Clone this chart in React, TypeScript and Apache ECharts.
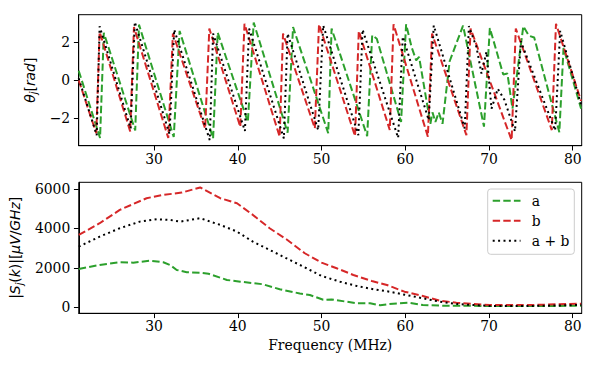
import React, { useEffect, useRef } from "react";
import * as echarts from "echarts";

// Phase (rad) vs frequency (MHz)
const thetaA: [number, number][] = [
  [21, 0.5], [23.55, -3.05], [24.0, 2.5], [27.75, -2.65], [28.2, 2.93], [32.35, -3.0], [33.05, 2.6],
  [37.05, -3.07], [37.6, 2.51], [41.2, -2.2], [41.9, 3.04], [45.95, -2.77], [46.6, 2.8], [50.8, -2.8],
  [51.2, 2.72], [55.45, -2.95], [56.05, 2.37], [56.6, 2.19], [59.5, -2.2], [60.1, 2.95], [60.75, 1.75],
  [61.3, 1.05], [61.65, 1.23], [63.0, -2.3], [63.25, -1.7], [63.6, -2.2], [64.0, -1.7], [64.45, -2.3],
  [65.3, 1.0], [66.9, 2.88], [69.4, -2.45], [70.1, 2.75], [71.7, 0.3], [72.2, 0.35], [72.8, -1.5],
  [74.1, 2.85], [74.75, 2.35], [75.4, 2.25], [78.4, -2.75], [78.9, 1.7], [81, -1.5],
];
const thetaB: [number, number][] = [
  [21, 0.0], [23.1, -2.8], [23.5, 2.55], [27.15, -2.7], [27.6, 2.8], [31.7, -3.05], [32.25, 2.46],
  [36.1, -2.55], [36.6, 2.72], [40.3, -2.46], [40.8, 2.98], [45.0, -2.98], [45.4, 2.46], [49.2, -2.54],
  [49.7, 2.95], [54.0, -2.95], [54.45, 2.6], [58.15, -2.63], [58.6, 2.95], [62.7, -2.98], [63.2, 2.46],
  [67.3, -2.9], [67.8, 2.72], [72.7, -3.16], [73.2, 2.72], [77.5, -2.63], [78.0, 2.98], [81, -1.1],
];
const thetaAB: [number, number][] = [
  [21, 0.1], [23.15, -2.9], [23.5, 2.84], [27.2, -2.55], [27.7, 3.07], [31.85, -2.85], [32.4, 2.67],
  [36.65, -3.16], [37.05, 2.46], [40.85, -2.68], [41.35, 2.72], [45.5, -3.07], [45.95, 2.46],
  [49.6, -2.63], [50.2, 2.89], [54.4, -2.9], [54.9, 2.67], [59.15, -3.04], [59.7, 2.3], [62.8, -2.1],
  [63.4, 2.89], [67.1, -2.54], [67.6, 2.85], [68.5, 1.75], [69.1, 0.35], [69.7, 1.5], [70.3, -1.5],
  [71.05, -0.45], [71.85, -1.05], [73.1, -2.7], [73.8, 2.05], [77.9, -2.65], [78.5, 2.6], [81, -1.3],
];

// Amplitude |S_j(k)| (µV/GHz) vs frequency (MHz)
const ampA: [number, number][] = [
  [21, 1944], [23.5, 2147], [25.9, 2284], [27.5, 2264], [29.5, 2365], [31.1, 2284], [31.9, 2147],
  [32.7, 1893], [33.9, 1777], [35.5, 1756], [36.5, 1700], [38.7, 1386], [40.3, 1300], [43.0, 1168],
  [45.0, 914], [47.4, 700], [48.6, 624], [50.2, 380], [51.2, 400], [54.2, 203], [55.8, 203],
  [57.0, 100], [58.1, 170], [60.3, 234], [62.1, 117], [64.1, 85], [70, 66], [75, 60], [81, 80],
];
const ampB: [number, number][] = [
  [21, 3670], [23.5, 4264], [25.9, 4939], [29.1, 5533], [31.1, 5700], [33.3, 5817], [35.5, 6080],
  [37.9, 5533], [39.9, 5279], [41.8, 4685], [43.8, 4010], [45.8, 3450], [48.0, 2741], [50.0, 2264],
  [51.8, 1980], [53.8, 1640], [56.0, 1335], [57.8, 1132], [59.9, 792], [62.1, 574], [64.1, 335],
  [66.1, 234], [68.0, 170], [70.1, 117], [75, 117], [81, 180],
];
const ampAB: [number, number][] = [
  [21, 3076], [23.5, 3584], [25.9, 4010], [28.3, 4345], [30.3, 4467], [31.9, 4431], [33.1, 4345],
  [35.5, 4518], [37.9, 4178], [39.9, 3838], [41.8, 3330], [43.8, 2909], [46.2, 2401], [48.2, 1980],
  [50.0, 1589], [52.2, 1300], [54.2, 1081], [56.2, 914], [58.1, 792], [60.1, 624], [62.1, 457],
  [64.1, 285], [66.1, 170], [68, 117], [70.1, 66], [75, 66], [81, 117],
];

const xTicks = [30, 40, 50, 60, 70, 80];
const thetaTicks = [-2, 0, 2];
const ampTicks = [0, 2000, 4000, 6000];
const legendNames = ["a", "b", "a + b"];

const GREEN = "#2ca02c";
const RED = "#d62728";
const BLACK = "#000000";
const SERIF = "DejaVu Serif";
const FS = 13.9;
const DASH = [7.4, 3.2];
const DOT = [2, 3.4];

const fmt = (v: number) => (v < 0 ? "\u2212" + Math.abs(v) : String(v));

export default function App() {
  const ref = useRef<HTMLDivElement>(null);
  useEffect(() => {
    if (!ref.current) return;
    const chart = echarts.init(ref.current, null, { renderer: "svg" });
    const L = 78.7, W = 503;
    const axisCommon = {
      axisLine: { show: true, onZero: false, lineStyle: { color: "#000", width: 1 } },
      axisTick: { show: true, inside: false, length: 4.8, lineStyle: { color: "#000", width: 1 } },
      splitLine: { show: false },
    };
    const rich = {
      i: { fontFamily: "DejaVu Sans", fontStyle: "italic", fontSize: FS, color: "#000" },
      n: { fontFamily: "DejaVu Sans", fontSize: FS, color: "#000" },
      s: { fontFamily: "DejaVu Sans", fontStyle: "italic", fontSize: 9.7, color: "#000", padding: [8, 0, 0, 0] },
    };
    const xAxisBase = (gi: number, named: boolean) => ({
      type: "value",
      gridIndex: gi,
      min: 21,
      max: 81.07,
      ...axisCommon,
      axisTick: { ...axisCommon.axisTick, customValues: xTicks },
      axisLabel: { customValues: xTicks, formatter: fmt, fontFamily: SERIF, fontSize: FS, color: "#000", margin: 6 },
      name: named ? "Frequency (MHz)" : "",
      nameLocation: "middle",
      nameGap: 25,
      nameTextStyle: { fontFamily: SERIF, fontSize: FS, color: "#000" },
    });
    const lineSeries = (name: string, data: [number, number][], color: string, dash: number[], gi: number) => ({
      type: "line",
      name,
      data,
      xAxisIndex: gi,
      yAxisIndex: gi,
      symbol: "none",
      showSymbol: false,
      lineStyle: { color, width: 2, type: dash, cap: "butt" },
      itemStyle: { color },
      z: 3,
    });
    const legY = [200.7, 220.7, 240.7];
    const legColors = [GREEN, RED, BLACK];
    const legDash = [DASH, DASH, DOT];
    chart.setOption({
      animation: false,
      backgroundColor: "#fff",
      grid: [
        { left: L, top: 14.7, width: W, height: 131, show: true, borderColor: "#000", borderWidth: 1, backgroundColor: "transparent" },
        { left: L, top: 182.3, width: W, height: 131, show: true, borderColor: "#000", borderWidth: 1, backgroundColor: "transparent" },
      ],
      xAxis: [xAxisBase(0, false), xAxisBase(1, true)],
      yAxis: [
        {
          type: "value",
          gridIndex: 0,
          min: -3.456,
          max: 3.456,
          ...axisCommon,
          axisTick: { ...axisCommon.axisTick, customValues: thetaTicks },
          axisLabel: { customValues: thetaTicks, formatter: fmt, fontFamily: SERIF, fontSize: FS, color: "#000", margin: 8.5 },
          name: "{i|\u03b8}{s|j}{n|[}{i|rad}{n|]}",
          nameLocation: "middle",
          nameRotate: 90,
          nameGap: 27,
          nameTextStyle: { rich },
        },
        {
          type: "value",
          gridIndex: 1,
          min: -305,
          max: 6340,
          ...axisCommon,
          axisTick: { ...axisCommon.axisTick, customValues: ampTicks },
          axisLabel: { customValues: ampTicks, formatter: fmt, fontFamily: SERIF, fontSize: FS, color: "#000", margin: 8.5 },
          name: "{n||}{i|S}{s|j}{n|(}{i|k}{n|)|[}{i|\u03bcV}{n|/}{i|GHz}{n|]}",
          nameLocation: "middle",
          nameRotate: 90,
          nameGap: 43,
          nameTextStyle: { rich },
        },
      ],
      series: [
        lineSeries("θa", thetaA, GREEN, DASH, 0),
        lineSeries("θb", thetaB, RED, DASH, 0),
        lineSeries("θa+b", thetaAB, BLACK, DOT, 0),
        lineSeries(legendNames[0], ampA, GREEN, DASH, 1),
        lineSeries(legendNames[1], ampB, RED, DASH, 1),
        lineSeries(legendNames[2], ampAB, BLACK, DOT, 1),
      ],
      graphic: [
        {
          type: "rect",
          shape: { x: 487.7, y: 189, width: 86.6, height: 65.3, r: 3 },
          style: { fill: "rgba(255,255,255,0.8)", stroke: "#cccccc", lineWidth: 1 },
          z: 10,
        },
        ...legendNames.flatMap((nm, k) => [
          {
            type: "line",
            shape: { x1: 492.7, y1: legY[k], x2: 520.5, y2: legY[k] },
            style: { stroke: legColors[k], lineWidth: 2, lineDash: legDash[k] },
            z: 11,
          },
          {
            type: "text",
            x: 531.7,
            y: legY[k],
            style: { text: nm, fontFamily: SERIF, fontSize: FS, fill: "#000", verticalAlign: "middle", align: "left" },
            z: 11,
          },
        ]),
      ],
    });
    return () => chart.dispose();
  }, []);
  return <div ref={ref} style={{ position: "fixed", left: 0, top: 0, width: 597, height: 368 }} />;
}
